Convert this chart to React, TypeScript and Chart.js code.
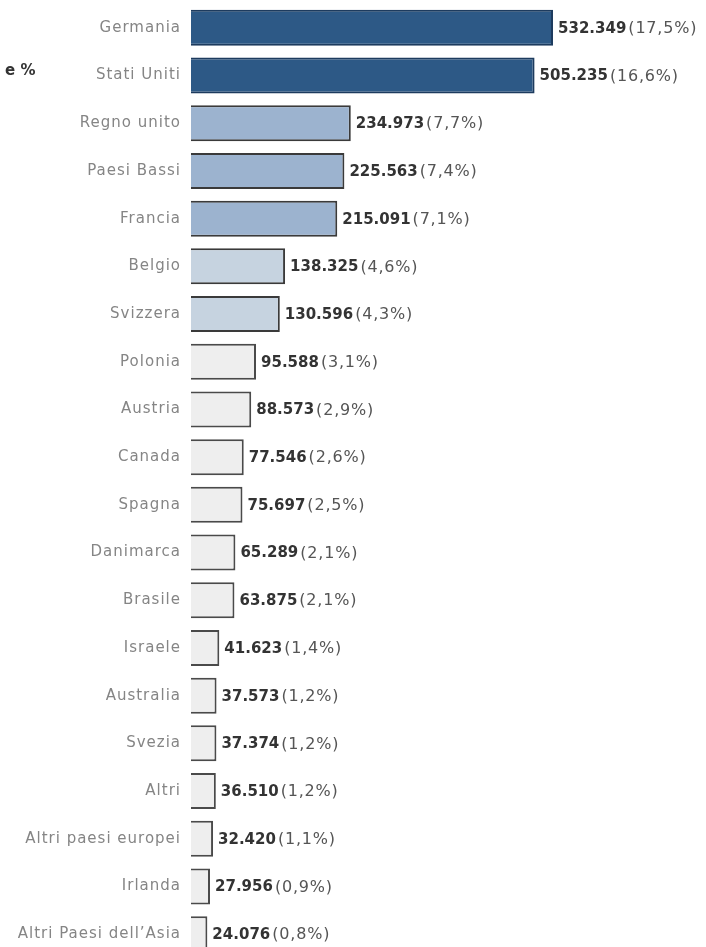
import React, { useEffect, useRef } from "react";
import { Chart, registerables } from "chart.js";

Chart.register(...registerables);

const categories = [
  "Germania", "Stati Uniti", "Regno unito", "Paesi Bassi", "Francia", "Belgio", "Svizzera",
  "Polonia", "Austria", "Canada", "Spagna", "Danimarca", "Brasile", "Israele", "Australia",
  "Svezia", "Altri", "Altri paesi europei", "Irlanda", "Altri Paesi dell\u2019Asia",
];
const values = [
  532349, 505235, 234973, 225563, 215091, 138325, 130596, 95588, 88573, 77546, 75697,
  65289, 63875, 41623, 37573, 37374, 36510, 32420, 27956, 24076,
];
const shares = [
  "17,5%", "16,6%", "7,7%", "7,4%", "7,1%", "4,6%", "4,3%", "3,1%", "2,9%", "2,6%", "2,5%",
  "2,1%", "2,1%", "1,4%", "1,2%", "1,2%", "1,2%", "1,1%", "0,9%", "0,8%",
];
const xMax = 757300;

const fillColors = values.map((_, i) =>
  i < 2 ? "#2d5986" : i < 5 ? "#9cb3cf" : i < 7 ? "#c6d3e0" : "#eeeeee"
);
const borderColors = values.map((_, i) =>
  i < 2 ? "#1d3b5e" : i < 7 ? "#3a3a3a" : "#4a4a4a"
);

const fmt = (v: number) => String(v).replace(/\B(?=(\d{3})+(?!\d))/g, ".");

const labelPlugin = {
  id: "valueLabels",
  beforeDraw(chart: any) {
    chart.ctx.letterSpacing = "1px";
  },
  afterDatasetsDraw(chart: any) {
    const ctx = chart.ctx;
    const meta = chart.getDatasetMeta(0);
    ctx.save();
    ctx.textBaseline = "middle";
    ctx.textAlign = "left";
    meta.data.forEach((bar: any, i: number) => {
      const x = bar.x + 5;
      const y = bar.y + 1;
      ctx.letterSpacing = "0px";
      ctx.font = "bold 15px 'DejaVu Sans'";
      ctx.fillStyle = "#333333";
      const t = fmt(values[i]);
      ctx.fillText(t, x, y);
      const w = ctx.measureText(t).width;
      ctx.letterSpacing = "0.8px";
      ctx.font = "16px 'DejaVu Sans'";
      ctx.fillStyle = "#555555";
      ctx.fillText("(" + shares[i] + ")", x + w + 2, y);
    });
    ctx.restore();
  },
  afterDraw(chart: any) {
    chart.ctx.letterSpacing = "0px";
  },
};

export default function App() {
  const ref = useRef<HTMLCanvasElement>(null);
  useEffect(() => {
    if (!ref.current) return;
    const chart = new Chart(ref.current, {
      type: "bar",
      data: {
        labels: categories,
        datasets: [
          {
            data: values,
            backgroundColor: fillColors,
            borderColor: borderColors,
            borderWidth: 2,
            borderSkipped: "start",
            barPercentage: 0.755,
            categoryPercentage: 1,
          },
        ],
      },
      options: {
        indexAxis: "y",
        responsive: false,
        animation: false,
        layout: { padding: { top: 4, right: 0, bottom: 0, left: 0 } },
        plugins: { legend: { display: false }, tooltip: { enabled: false } },
        scales: {
          x: { display: false, min: 0, max: xMax },
          y: {
            afterFit: (s: any) => {
              s.width = 191;
              s.paddingTop = 0;
              s.paddingBottom = 0;
            },
            grid: { display: false, drawTicks: false },
            border: { display: false },
            ticks: {
              padding: 10,
              color: "#858585",
              font: { family: "'DejaVu Sans'", size: 15 },
              autoSkip: false,
            },
          },
        },
      },
      plugins: [labelPlugin],
    });
    return () => chart.destroy();
  }, []);
  return (
    <div
      style={{
        position: "fixed",
        left: 0,
        top: 0,
        width: 706,
        height: 947,
        overflow: "hidden",
        background: "#ffffff",
      }}
    >
      <canvas ref={ref} width={706} height={958} style={{ display: "block" }} />
      <div
        style={{
          position: "absolute",
          left: 5,
          top: 61,
          font: "bold 15px 'DejaVu Sans'",
          lineHeight: "18px",
          color: "#333333",
        }}
      >
        e %
      </div>
    </div>
  );
}
